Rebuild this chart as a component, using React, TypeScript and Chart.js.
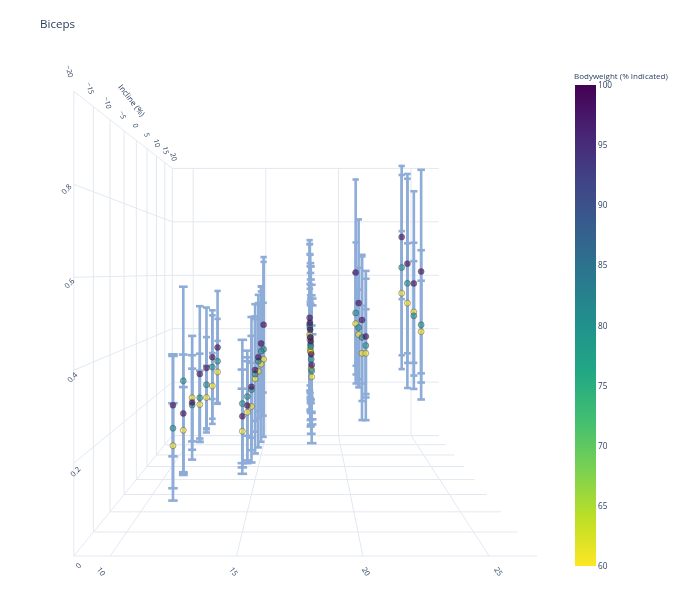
import { useEffect, useRef } from 'react';
import Chart from 'chart.js/auto';

// one column per (speed, incline) run
const colSpeed = [12, 12, 12, 12, 12, 12, 12, 15, 15, 15, 15, 15, 15, 15, 18, 18, 18, 18, 18, 18, 18, 21, 21, 21, 21, 24, 24, 24, 24];
const colIncline = [-15, -10, -5, 0, 5, 10, 15, -15, -10, -5, 0, 5, 10, 15, -15, -10, -5, 0, 5, 10, 15, 0, 5, 10, 15, 0, 5, 10, 15];

const bodyweights = [60, 80, 100];

// activation per bodyweight, same order as the columns
const act60 = [0.203, 0.208, 0.266, 0.221, 0.217, 0.231, 0.258, 0.237, 0.254, 0.242, 0.297, 0.3, 0.304, 0.303, 0.365, 0.365, 0.391, 0.378, 0.369, 0.386, 0.39, 0.372, 0.356, 0.403, 0.429, 0.436, 0.486, 0.508, 0.537];
const act80 = [0.244, 0.334, 0.246, 0.241, 0.257, 0.294, 0.296, 0.302, 0.294, 0.288, 0.311, 0.331, 0.347, 0.338, 0.379, 0.389, 0.407, 0.398, 0.406, 0.426, 0.425, 0.395, 0.406, 0.426, 0.467, 0.456, 0.474, 0.574, 0.628];
const act100 = [0.298, 0.251, 0.253, 0.311, 0.31, 0.327, 0.345, 0.272, 0.271, 0.296, 0.323, 0.344, 0.373, 0.425, 0.393, 0.402, 0.421, 0.419, 0.43, 0.442, 0.45, 0.422, 0.461, 0.508, 0.61, 0.613, 0.576, 0.64, 0.736];

const err60 = [0.1, 0.11, 0.17, 0.1, 0.1, 0.11, 0.11, 0.1, 0.13, 0.12, 0.22, 0.24, 0.26, 0.2, 0.1, 0.11, 0.13, 0.14, 0.15, 0.17, 0.18, 0.13, 0.15, 0.15, 0.18, 0.15, 0.16, 0.2, 0.22];
const err80 = [0.17, 0.24, 0.1, 0.13, 0.15, 0.19, 0.15, 0.15, 0.1, 0.2, 0.17, 0.18, 0.2, 0.31, 0.17, 0.19, 0.22, 0.24, 0.26, 0.28, 0.3, 0.22, 0.26, 0.2, 0.25, 0.22, 0.23, 0.35, 0.36];
const err100 = [0.12, 0.15, 0.13, 0.2, 0.19, 0.14, 0.2, 0.11, 0.14, 0.14, 0.15, 0.17, 0.19, 0.24, 0.14, 0.15, 0.17, 0.19, 0.2, 0.23, 0.26, 0.17, 0.2, 0.28, 0.33, 0.3, 0.29, 0.3, 0.22];

const speedTicks = [10, 15, 20, 25];
const inclineTicks = [-20, -15, -10, -5, 0, 5, 10, 15, 20];
const zTicks = [0, 0.2, 0.4, 0.6, 0.8];
const colorbarTicks = [100, 95, 90, 85, 80, 75, 70, 65, 60];

// scene ranges + camera
const SPEED_MIN = 8.56;
const SPEED_MAX = 26.9;
const INC_MIN = -20;
const INC_MAX = 20;
const Z_MAX = 1;
const PERSP = 0.739;
const VP_U = 0.5;
const VP_W = 0.61;

const VIRIDIS = ['#440154', '#482475', '#414487', '#355f8d', '#2a788e', '#21918c', '#22a884', '#44bf70', '#7ad151', '#bddf26', '#fde725'];
const BAR_COLOR = '#8eacd8';
const GRID_COLOR = '#e3e8f0';
const TEXT_COLOR = '#2a3f5f';

const depthScale = (incline: number) => 1 / (1 + PERSP * ((incline - INC_MIN) / (INC_MAX - INC_MIN)));

const project = (speed: number, incline: number, z: number) => {
  const u = (speed - SPEED_MIN) / (SPEED_MAX - SPEED_MIN);
  const w = z / Z_MAX;
  const s = depthScale(incline);
  return { x: (u - VP_U) * s, y: (w - VP_W) * s };
};

const hexToRgb = (hex: string) => [1, 3, 5].map((i) => parseInt(hex.slice(i, i + 2), 16));

// reversed viridis: 100 -> dark purple, 60 -> yellow
const bwColor = (bw: number, alpha: number) => {
  const t = Math.min(1, Math.max(0, (100 - bw) / 40)) * (VIRIDIS.length - 1);
  const i = Math.min(VIRIDIS.length - 2, Math.floor(t));
  const f = t - i;
  const a = hexToRgb(VIRIDIS[i]);
  const b = hexToRgb(VIRIDIS[i + 1]);
  const c = a.map((v, k) => Math.round(v + (b[k] - v) * f));
  return `rgba(${c[0]},${c[1]},${c[2]},${alpha})`;
};

const acts = [act60, act80, act100];
const errs = [err60, err80, err100];

// far columns first so near ones sit on top
const order = colSpeed.map((_, i) => i).sort((a, b) => colIncline[b] - colIncline[a]);

const scenePlugin = {
  id: 'scene3d',
  beforeDatasetsDraw(chart: any) {
    const { ctx, scales } = chart;
    const px = (sp: number, inc: number, z: number) => {
      const p = project(sp, inc, z);
      return [scales.x.getPixelForValue(p.x), scales.y.getPixelForValue(p.y)];
    };
    const line = (a: number[], b: number[]) => {
      ctx.beginPath();
      ctx.moveTo(a[0], a[1]);
      ctx.lineTo(b[0], b[1]);
      ctx.stroke();
    };

    ctx.save();
    ctx.strokeStyle = GRID_COLOR;
    ctx.lineWidth = 1;
    const zGrid = [...zTicks, Z_MAX];
    // floor
    inclineTicks.forEach((inc) => line(px(SPEED_MIN, inc, 0), px(SPEED_MAX, inc, 0)));
    speedTicks.forEach((sp) => line(px(sp, INC_MIN, 0), px(sp, INC_MAX, 0)));
    // back wall
    speedTicks.forEach((sp) => line(px(sp, INC_MAX, 0), px(sp, INC_MAX, Z_MAX)));
    zGrid.forEach((z) => line(px(SPEED_MIN, INC_MAX, z), px(SPEED_MAX, INC_MAX, z)));
    // left wall
    inclineTicks.forEach((inc) => line(px(SPEED_MIN, inc, 0), px(SPEED_MIN, inc, Z_MAX)));
    zGrid.forEach((z) => line(px(SPEED_MIN, INC_MIN, z), px(SPEED_MIN, INC_MAX, z)));

    // error bars
    ctx.strokeStyle = BAR_COLOR;
    ctx.lineWidth = 2.6;
    ctx.lineCap = 'butt';
    order.forEach((i) => {
      const s = depthScale(colIncline[i]);
      const cap = 5.2 * s;
      acts.forEach((arr, k) => {
        const lo = px(colSpeed[i], colIncline[i], arr[i] - errs[k][i]);
        const hi = px(colSpeed[i], colIncline[i], arr[i] + errs[k][i]);
        line(lo, hi);
        line([lo[0] - cap, lo[1]], [lo[0] + cap, lo[1]]);
        line([hi[0] - cap, hi[1]], [hi[0] + cap, hi[1]]);
      });
    });
    ctx.restore();
  },
  afterDraw(chart: any) {
    const { ctx, scales } = chart;
    const px = (sp: number, inc: number, z: number) => {
      const p = project(sp, inc, z);
      return [scales.x.getPixelForValue(p.x), scales.y.getPixelForValue(p.y)];
    };
    const label = (text: string, x: number, y: number, angle: number, size = 7.5) => {
      ctx.save();
      ctx.translate(x, y);
      ctx.rotate((angle * Math.PI) / 180);
      ctx.font = `${size}px "Open Sans", sans-serif`;
      ctx.fillStyle = TEXT_COLOR;
      ctx.textAlign = 'center';
      ctx.textBaseline = 'middle';
      ctx.fillText(text, 0, 0);
      ctx.restore();
    };
    const fmt = (v: number) => (v < 0 ? `\u2212${Math.abs(v)}` : `${v}`);

    zTicks.forEach((z) => {
      const [x, y] = px(SPEED_MIN, INC_MIN, z);
      label(`${z}`, x + 5 - 15 * z, y + 10 - 6 * z, -45);
    });
    speedTicks.forEach((sp) => {
      const [x, y] = px(sp, INC_MIN - 2.5, 0);
      label(`${sp}`, x, y + 2, 55);
    });
    inclineTicks.forEach((inc) => {
      const s = depthScale(inc);
      const [x, y] = px(SPEED_MIN, inc, Z_MAX);
      label(fmt(inc), x - 5 + (1 - s) * 14, y - 20 * s, 76, 7);
    });
    const [tx, ty] = px(SPEED_MIN, -3, Z_MAX);
    label('Incline (%)', tx + 2, ty - 34, 52, 8);
  },
};

const App = () => {
  const canvasRef = useRef<HTMLCanvasElement>(null);

  useEffect(() => {
    const canvas = canvasRef.current;
    if (!canvas) return;

    const points: { x: number; y: number }[] = [];
    const fills: string[] = [];
    order.forEach((i) => {
      bodyweights.forEach((bw, k) => {
        points.push(project(colSpeed[i], colIncline[i], acts[k][i]));
        fills.push(bwColor(bw, 0.6));
      });
    });

    const chart = new Chart(canvas, {
      type: 'scatter',
      data: {
        datasets: [
          {
            data: points,
            pointRadius: 3,
            pointBackgroundColor: fills,
            pointBorderColor: 'rgba(55,55,75,0.5)',
            pointBorderWidth: 0.8,
          },
        ],
      },
      options: {
        animation: false,
        responsive: false,
        layout: { padding: 0 },
        plugins: { legend: { display: false }, tooltip: { enabled: false } },
        scales: {
          x: { type: 'linear', min: -0.649, max: 0.798, display: false },
          y: { type: 'linear', min: -0.7223, max: 0.5764, display: false },
        },
      },
      plugins: [scenePlugin],
    });

    return () => chart.destroy();
  }, []);

  const barTop = 85;
  const barHeight = 481;

  return (
    <div
      style={{
        position: 'fixed',
        left: 0,
        top: 0,
        width: 680,
        height: 613,
        background: '#fff',
        fontFamily: '"Open Sans", sans-serif',
        color: TEXT_COLOR,
      }}
    >
      <canvas ref={canvasRef} width={680} height={613} style={{ position: 'absolute', left: 0, top: 0 }} />

      {/* Title */}
      <div style={{ position: 'absolute', left: 40, top: 18, fontSize: 11.6, lineHeight: 1 }}>Biceps</div>

      {/* Colorbar */}
      <div style={{ position: 'absolute', left: 574, top: 72, fontSize: 8, lineHeight: 1, whiteSpace: 'nowrap' }}>
        Bodyweight (% Indicated)
      </div>
      <div
        style={{
          position: 'absolute',
          left: 575,
          top: barTop,
          width: 21,
          height: barHeight,
          background: `linear-gradient(to bottom, ${VIRIDIS.join(', ')})`,
        }}
      />
      {colorbarTicks.map((v) => (
        <div
          key={v}
          style={{
            position: 'absolute',
            left: 598,
            top: barTop + ((100 - v) / 40) * barHeight,
            transform: 'translateY(-50%)',
            fontSize: 8.2,
            lineHeight: 1,
          }}
        >
          {v}
        </div>
      ))}
    </div>
  );
};

export default App;
